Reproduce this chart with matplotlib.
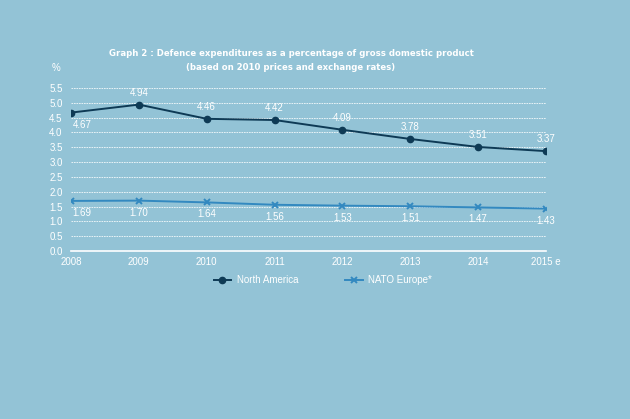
import numpy as np
import matplotlib.pyplot as plt

years = ['2008', '2009', '2010', '2011', '2012', '2013', '2014', '2015 e']
north_america = [4.67, 4.94, 4.46, 4.42, 4.09, 3.78, 3.51, 3.37]
nato_europe = [1.69, 1.70, 1.64, 1.56, 1.53, 1.51, 1.47, 1.43]

bg = '#93c3d6'
dark = '#0e3a55'
light = '#3389c0'

plt.rcParams['font.family'] = ['Liberation Sans', 'DejaVu Sans']

fig = plt.figure(figsize=(6.3, 4.19), dpi=100, facecolor=bg)
ax = fig.add_axes([71 / 630, 1 - 251 / 419, 475 / 630, 163 / 419], facecolor=bg)

x = np.arange(len(years))
ax.plot(x, north_america, color=dark, marker='o', markersize=4.5, lw=1.4,
        label='North America', zorder=3)
ax.plot(x, nato_europe, color=light, marker='x', markersize=5, mew=1.4, lw=1.4,
        label='NATO Europe*', zorder=3)

for i, v in enumerate(north_america):
    if i == 0:
        ax.annotate('%.2f' % v, (i, v), xytext=(1, -5), textcoords='offset points',
                    ha='left', va='top', color='white', fontsize=7)
    else:
        ax.annotate('%.2f' % v, (i, v), xytext=(0, 5), textcoords='offset points',
                    ha='center', va='bottom', color='white', fontsize=7)
for i, v in enumerate(nato_europe):
    ax.annotate('%.2f' % v, (i, v), xytext=(0 if i else 1, -5), textcoords='offset points',
                ha='center' if i else 'left', va='top', color='white', fontsize=7)

ax.set_xlim(0, 7)
ax.set_ylim(0, 5.5)
ax.set_yticks(np.arange(0, 5.51, 0.5))
ax.set_yticklabels(['%.1f' % t for t in np.arange(0, 5.51, 0.5)])
ax.set_xticks(x)
ax.set_xticklabels(years)
ax.tick_params(colors='white', labelsize=7, length=0, pad=4)
ax.tick_params(axis='y', pad=6)
for s in ['top', 'right', 'left']:
    ax.spines[s].set_visible(False)
ax.spines['bottom'].set_color('white')
ax.spines['bottom'].set_linewidth(1.2)
ax.yaxis.grid(True, color='white', linestyle=(0, (2, 1)), lw=0.6, alpha=0.9)
ax.set_axisbelow(True)

title_font = dict(ha='center', va='center', color='white', fontsize=6.8, fontweight='bold',
                  family='DejaVu Sans', fontstretch='condensed')
fig.text(291 / 630, 1 - 54 / 419,
         'Graph 2 : Defence expenditures as a percentage of gross domestic product', **title_font)
fig.text(291 / 630, 1 - 68 / 419, '(based on 2010 prices and exchange rates)', **title_font)
fig.text(56 / 630, 1 - 68 / 419, '%', ha='center', va='center', color='white', fontsize=7)

leg = fig.legend(loc='center', bbox_to_anchor=(323 / 630, 1 - 280 / 419), ncol=2,
                 frameon=False, fontsize=7, handlelength=1.8, handletextpad=0.6,
                 columnspacing=4.8)
for t in leg.get_texts():
    t.set_color('white')

fig.savefig('out.png', dpi=100, facecolor=bg)
